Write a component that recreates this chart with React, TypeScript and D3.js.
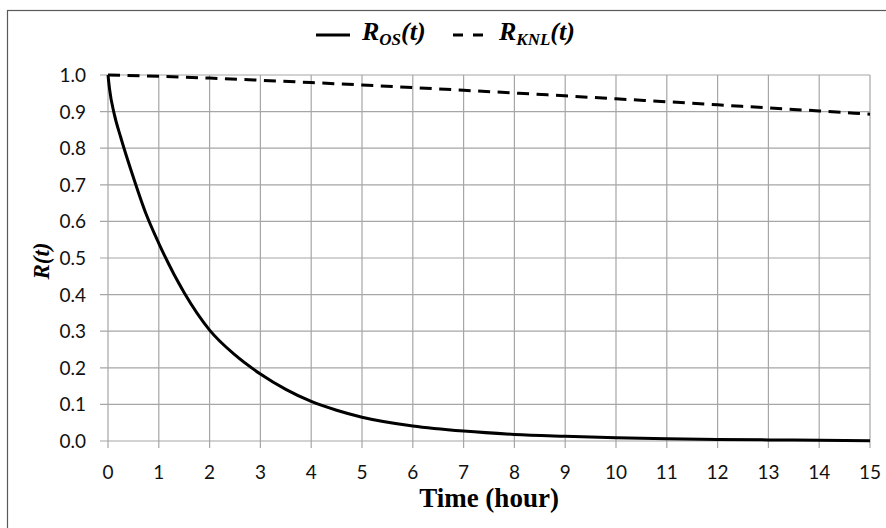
import React from "react";
import * as d3 from "d3";

const osTime = [0, 0.03, 0.12, 0.25, 0.5, 0.75, 1, 1.5, 2, 2.5, 3, 3.5, 4, 4.5, 5, 6, 7, 8, 9, 10, 11, 12, 13, 14, 15];
const osValues = [1.0, 0.962, 0.895, 0.83, 0.72, 0.62, 0.54, 0.405, 0.303, 0.235, 0.183, 0.141, 0.108, 0.084, 0.065, 0.041, 0.027, 0.018, 0.013, 0.009, 0.006, 0.004, 0.003, 0.002, 0.001];

const knlTime = [0, 1, 2, 3, 4, 5, 6, 7, 8, 9, 10, 11, 12, 13, 14, 15];
const knlValues = [1.0, 0.9965, 0.9915, 0.9857, 0.9794, 0.9727, 0.9657, 0.9583, 0.9507, 0.943, 0.935, 0.9269, 0.9186, 0.91, 0.9018, 0.893];

const xTicks = d3.range(0, 16);
const yTicks = d3.range(0, 11).map((i) => i / 10);

const W = 886;
const H = 528;
const M = { left: 108, right: 870, top: 75, bottom: 441 };

export default function App() {
  const x = d3.scaleLinear().domain([0, 15]).range([M.left, M.right]);
  const y = d3.scaleLinear().domain([0, 1]).range([M.bottom, M.top]);

  const osData = osTime.map((t, i) => [t, osValues[i]] as [number, number]);
  const knlData = knlTime.map((t, i) => [t, knlValues[i]] as [number, number]);

  const line = d3
    .line<[number, number]>()
    .x((d) => x(d[0]))
    .y((d) => y(d[1]))
    .curve(d3.curveMonotoneX);

  const grid = "#a6a6a6";
  const tickFont = "Lato, 'Open Sans', sans-serif";
  const serif = "'Liberation Serif', 'Times New Roman', serif";

  return (
    <svg
      width={W}
      height={H}
      style={{ position: "absolute", left: 0, top: 0, background: "#fff" }}
    >
      <rect x={0} y={0} width={W} height={H} fill="#fff" />
      <rect x={7.5} y={10.5} width={1000} height={1000} fill="none" stroke="#595959" strokeWidth={1.2} />

      {/* grid */}
      {xTicks.map((t) => (
        <line key={"vx" + t} x1={x(t)} x2={x(t)} y1={M.top} y2={M.bottom + 7} stroke={grid} strokeWidth={1.2} />
      ))}
      {yTicks.map((v) => (
        <line key={"hy" + v} x1={M.left - 8} x2={M.right} y1={y(v)} y2={y(v)} stroke={grid} strokeWidth={1.2} />
      ))}

      {/* tick labels */}
      {xTicks.map((t) => (
        <text
          key={"tx" + t}
          x={x(t)}
          y={479}
          textAnchor="middle"
          fontFamily={tickFont}
          fontSize={19}
          fill="#111"
        >
          {t}
        </text>
      ))}
      {yTicks.map((v) => (
        <text
          key={"ty" + v}
          x={86}
          y={y(v) + 7}
          textAnchor="end"
          fontFamily={tickFont}
          fontSize={19}
          fill="#111"
        >
          {v.toFixed(1)}
        </text>
      ))}

      {/* series */}
      <path d={line(knlData) || ""} fill="none" stroke="#000" strokeWidth={3} strokeDasharray="12,7.5" />
      <path d={line(osData) || ""} fill="none" stroke="#000" strokeWidth={3} />

      {/* axis titles */}
      <text
        x={(M.left + M.right) / 2}
        y={507}
        textAnchor="middle"
        fontFamily={serif}
        fontWeight="bold"
        fontSize={27}
        fill="#000"
      >
        Time (hour)
      </text>
      <text
        transform={`translate(49, ${(M.top + M.bottom) / 2 + 3}) rotate(-90)`}
        textAnchor="middle"
        fontFamily={serif}
        fontWeight="bold"
        fontStyle="italic"
        fontSize={23}
        fill="#000"
      >
        R(t)
      </text>

      {/* legend */}
      <line x1={316} x2={350} y1={35} y2={35} stroke="#000" strokeWidth={3} />
      <text x={362} y={40} fontFamily={serif} fontWeight="bold" fontStyle="italic" fontSize={26} fill="#000">
        R
        <tspan fontSize={17} dy={5}>OS</tspan>
        <tspan fontSize={26} dy={-5}>(t)</tspan>
      </text>
      <line x1={453} x2={484} y1={35} y2={35} stroke="#000" strokeWidth={3} strokeDasharray="10,10" />
      <text x={499} y={40} fontFamily={serif} fontWeight="bold" fontStyle="italic" fontSize={26} fill="#000">
        R
        <tspan fontSize={17} dy={5}>KNL</tspan>
        <tspan fontSize={26} dy={-5}>(t)</tspan>
      </text>
    </svg>
  );
}
